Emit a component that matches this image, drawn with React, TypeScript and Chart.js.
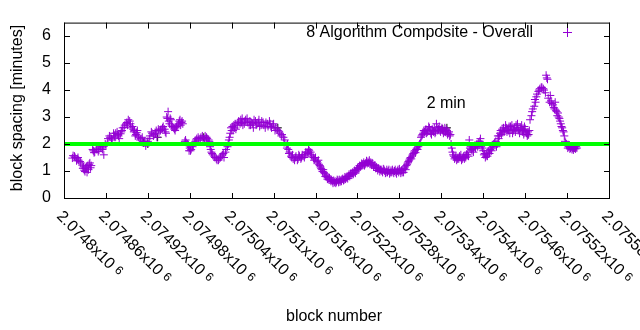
import React, { useEffect, useRef } from "react";
import { Chart, registerables } from "chart.js";

Chart.register(...registerables);

const FONT = "'Liberation Sans', Arial, Helvetica, sans-serif";

// x axis: block number
const xMin = 2074800;
const xMax = 2075580;
const xStep = 60;
// y axis: block spacing in minutes
const yMin = 0;
const yMax = 6.5;
const yStep = 1;

const seriesLabel = "8 Algorithm Composite - Overall";
const targetLabel = "2 min";
const targetMinutes = 2;
const targetLabelAt: [number, number] = [2075347, 3.32];
const yTitle = "block spacing [minutes]";
const xTitle = "block number";

// [block number, block spacing (minutes)] — centre of the band
const compositeOverall: [number, number][] = [
  [2074813, 1.57], [2074816, 1.5], [2074819, 1.45], [2074821, 1.4], [2074824, 1.3],
  [2074827, 1.1], [2074829, 1.03], [2074832, 1.15], [2074833, 0.95], [2074834, 1.2],
  [2074837, 1.3], [2074839, 1.2],
  [2074842, 1.75], [2074844, 1.7], [2074847, 1.8], [2074850, 1.78], [2074853, 1.85],
  [2074856, 1.9], [2074857, 1.6], [2074860, 1.95], [2074863, 2.2], [2074866, 2.25],
  [2074869, 2.15], [2074872, 2.3], [2074874, 2.4], [2074877, 2.35], [2074879, 2.2],
  [2074882, 2.45], [2074884, 2.6], [2074887, 2.7], [2074890, 2.8], [2074892, 2.9],
  [2074895, 2.75], [2074896, 2.6], [2074899, 2.55], [2074900, 2.45], [2074903, 2.35],
  [2074905, 2.5], [2074907, 2.25], [2074910, 2.2], [2074913, 2.1], [2074916, 2.05],
  [2074917, 1.93], [2074920, 2.1], [2074923, 2.3], [2074926, 2.4], [2074929, 2.35],
  [2074932, 2.5], [2074933, 2.25], [2074936, 2.45], [2074939, 2.55], [2074942, 2.65],
  [2074945, 2.45], [2074946, 2.4], [2074947, 3.0], [2074949, 3.2], [2074950, 2.85],
  [2074953, 2.9], [2074955, 2.65], [2074958, 2.55], [2074960, 2.6], [2074962, 2.7],
  [2074965, 2.85], [2074968, 2.8], [2074970, 2.75],
  [2074973, 2.1], [2074975, 2.05], [2074978, 1.95], [2074979, 1.75], [2074982, 1.8],
  [2074985, 1.95], [2074988, 2.1], [2074990, 2.2], [2074993, 2.15], [2074996, 2.25],
  [2074999, 2.2], [2075002, 2.3], [2075005, 2.2], [2075008, 2.1], [2075009, 1.9],
  [2075011, 1.7], [2075013, 1.6], [2075016, 1.5], [2075019, 1.4], [2075022, 1.45],
  [2075025, 1.55], [2075028, 1.65], [2075029, 1.5], [2075032, 1.8], [2075035, 2.0],
  [2075036, 2.15],
  [2075038, 2.4], [2075039, 2.6], [2075042, 2.5], [2075043, 2.7], [2075046, 2.55],
  [2075049, 2.8], [2075052, 2.75], [2075053, 2.9], [2075056, 2.7], [2075059, 2.85],
  [2075062, 2.95], [2075065, 2.7], [2075068, 2.8], [2075071, 2.6], [2075074, 2.85],
  [2075076, 2.75], [2075079, 2.9], [2075082, 2.7], [2075085, 2.8], [2075088, 2.6],
  [2075091, 2.75], [2075094, 2.85], [2075096, 2.65], [2075099, 2.7], [2075102, 2.5],
  [2075105, 2.55], [2075108, 2.45], [2075111, 2.3], [2075114, 2.25], [2075115, 2.05],
  [2075118, 1.95], [2075121, 1.8], [2075122, 1.65], [2075125, 1.55], [2075128, 1.45],
  [2075131, 1.5], [2075134, 1.4], [2075137, 1.55], [2075139, 1.45], [2075142, 1.55],
  [2075145, 1.6], [2075148, 1.7], [2075151, 1.75], [2075154, 1.6], [2075157, 1.5],
  [2075159, 1.45], [2075162, 1.35], [2075165, 1.25], [2075167, 1.15],
  [2075169, 1.05], [2075172, 0.95], [2075175, 0.85], [2075178, 0.75], [2075181, 0.7],
  [2075184, 0.62], [2075187, 0.58], [2075190, 0.6], [2075192, 0.65], [2075195, 0.6],
  [2075198, 0.7], [2075201, 0.68], [2075204, 0.75], [2075207, 0.82], [2075210, 0.9],
  [2075212, 0.85], [2075215, 0.95], [2075218, 1.0], [2075221, 1.1], [2075224, 1.15],
  [2075227, 1.25], [2075230, 1.2], [2075232, 1.3], [2075235, 1.35], [2075238, 1.25],
  [2075241, 1.3], [2075244, 1.2], [2075247, 1.15], [2075250, 1.1], [2075253, 1.05],
  [2075255, 1.0], [2075258, 1.05], [2075261, 0.95], [2075264, 1.0], [2075267, 0.95],
  [2075270, 1.05], [2075273, 1.0], [2075275, 0.95], [2075278, 1.05], [2075281, 1.0],
  [2075284, 0.95], [2075287, 1.1], [2075290, 1.2],
  [2075293, 1.35], [2075295, 1.45], [2075298, 1.55], [2075301, 1.7], [2075304, 1.8],
  [2075307, 1.9], [2075310, 2.05], [2075311, 2.25], [2075314, 2.4], [2075317, 2.5],
  [2075320, 2.45], [2075323, 2.6], [2075326, 2.35], [2075328, 2.5], [2075331, 2.4],
  [2075333, 2.75], [2075336, 2.55], [2075338, 2.5], [2075341, 2.6], [2075344, 2.45],
  [2075347, 2.55], [2075350, 2.4], [2075353, 2.35], [2075354, 2.0],
  [2075357, 1.6], [2075360, 1.5], [2075363, 1.45], [2075366, 1.55], [2075369, 1.4],
  [2075371, 1.5], [2075374, 1.55], [2075377, 1.6], [2075380, 2.15], [2075381, 1.85],
  [2075384, 1.75], [2075387, 1.9], [2075390, 1.95], [2075393, 2.05], [2075396, 2.2],
  [2075399, 1.85], [2075401, 1.6], [2075404, 1.55], [2075407, 1.7], [2075410, 1.8],
  [2075413, 1.95], [2075416, 2.05], [2075419, 1.9],
  [2075422, 2.2], [2075424, 2.4], [2075427, 2.55], [2075430, 2.45], [2075433, 2.6],
  [2075436, 2.5], [2075439, 2.65], [2075442, 2.4], [2075444, 2.55], [2075447, 2.7],
  [2075450, 2.5], [2075453, 2.6], [2075456, 2.45], [2075459, 2.65], [2075462, 2.4],
  [2075463, 2.3], [2075466, 2.5],
  [2075467, 2.9], [2075469, 3.05], [2075470, 3.2], [2075473, 3.4], [2075474, 3.65],
  [2075476, 3.75], [2075479, 3.95], [2075480, 4.0], [2075483, 4.1], [2075486, 4.05],
  [2075489, 3.9], [2075490, 4.55], [2075492, 4.4], [2075493, 3.7], [2075495, 3.55],
  [2075496, 3.8], [2075497, 3.6], [2075500, 3.45], [2075502, 3.3], [2075503, 3.55],
  [2075505, 3.2], [2075506, 3.05], [2075507, 3.15], [2075509, 2.95], [2075510, 2.85],
  [2075513, 2.6], [2075515, 2.45], [2075516, 2.3], [2075517, 2.1], [2075519, 2.0],
  [2075520, 1.95], [2075522, 1.9], [2075525, 1.85], [2075527, 1.8], [2075530, 1.85],
  [2075533, 1.9],
];

// the remaining blocks of the same series, spread around the band
const compositeOverallSpread: [number, number][] = [
  [2074812, 1.48], [2074815, 1.55], [2074818, 1.38], [2074820, 1.5], [2074823, 1.35],
  [2074826, 1.22], [2074828, 1.15], [2074830, 0.98], [2074831, 1.1], [2074835, 1.05],
  [2074836, 1.25], [2074838, 1.12],
  [2074841, 1.8], [2074843, 1.68], [2074846, 1.85], [2074849, 1.72], [2074852, 1.9],
  [2074855, 1.8], [2074859, 2.0], [2074862, 2.05], [2074865, 2.3], [2074868, 2.2],
  [2074871, 2.4], [2074873, 2.25], [2074876, 2.45], [2074878, 2.3], [2074881, 2.38],
  [2074883, 2.5], [2074886, 2.62], [2074889, 2.75], [2074891, 2.7], [2074894, 2.85],
  [2074898, 2.65], [2074901, 2.5], [2074902, 2.3], [2074904, 2.42], [2074906, 2.3],
  [2074909, 2.15], [2074912, 2.25], [2074915, 2.1], [2074919, 2.05], [2074922, 2.2],
  [2074925, 2.45], [2074928, 2.3], [2074931, 2.4], [2074935, 2.55], [2074938, 2.5],
  [2074941, 2.6], [2074944, 2.55], [2074948, 2.95], [2074951, 2.75], [2074952, 2.95],
  [2074954, 2.7], [2074957, 2.6], [2074959, 2.5], [2074961, 2.65], [2074964, 2.75],
  [2074966, 2.9], [2074967, 2.7], [2074969, 2.85],
  [2074974, 2.15], [2074977, 2.0], [2074980, 1.85], [2074981, 1.75], [2074984, 1.9],
  [2074987, 2.05], [2074989, 2.15], [2074992, 2.25], [2074995, 2.2], [2074998, 2.3],
  [2075001, 2.15], [2075004, 2.25], [2075007, 2.15], [2075010, 1.8], [2075012, 1.65],
  [2075015, 1.55], [2075018, 1.45], [2075021, 1.4], [2075024, 1.5], [2075027, 1.6],
  [2075031, 1.7], [2075034, 1.9], [2075037, 2.25],
  [2075040, 2.5], [2075041, 2.65], [2075044, 2.6], [2075045, 2.75], [2075048, 2.7],
  [2075050, 2.85], [2075054, 2.8], [2075055, 2.95], [2075058, 2.75], [2075060, 2.9],
  [2075063, 2.8], [2075066, 2.85], [2075067, 2.7], [2075070, 2.75], [2075072, 2.9],
  [2075075, 2.7], [2075078, 2.8], [2075080, 2.65], [2075083, 2.85], [2075086, 2.7],
  [2075089, 2.8], [2075092, 2.65], [2075095, 2.75], [2075097, 2.6], [2075100, 2.75],
  [2075103, 2.6], [2075106, 2.5], [2075109, 2.4], [2075112, 2.35], [2075116, 2.15],
  [2075119, 1.85], [2075120, 2.0], [2075123, 1.7], [2075126, 1.5], [2075127, 1.6],
  [2075130, 1.4], [2075132, 1.55], [2075135, 1.45], [2075136, 1.6], [2075140, 1.5],
  [2075141, 1.6], [2075144, 1.5], [2075146, 1.7], [2075149, 1.65], [2075150, 1.8],
  [2075153, 1.7], [2075155, 1.55], [2075158, 1.4], [2075160, 1.5], [2075163, 1.3],
  [2075164, 1.4], [2075166, 1.2],
  [2075168, 1.1], [2075170, 0.98], [2075171, 1.05], [2075173, 0.9], [2075174, 0.8],
  [2075176, 0.78], [2075177, 0.7], [2075179, 0.68], [2075180, 0.75], [2075182, 0.62],
  [2075183, 0.68], [2075185, 0.55], [2075186, 0.65], [2075188, 0.62], [2075189, 0.55],
  [2075191, 0.68], [2075193, 0.58], [2075194, 0.68], [2075196, 0.65], [2075197, 0.62],
  [2075199, 0.72], [2075200, 0.65], [2075202, 0.78], [2075203, 0.7], [2075205, 0.8],
  [2075206, 0.72], [2075208, 0.88], [2075209, 0.8], [2075211, 0.92], [2075213, 0.95],
  [2075214, 0.88], [2075216, 1.02], [2075217, 0.92], [2075219, 1.05], [2075220, 1.12],
  [2075222, 1.08], [2075223, 1.2], [2075225, 1.18], [2075226, 1.28], [2075228, 1.22],
  [2075229, 1.32], [2075231, 1.25], [2075233, 1.38], [2075234, 1.28], [2075236, 1.3],
  [2075237, 1.4], [2075239, 1.32], [2075240, 1.22], [2075242, 1.25], [2075243, 1.15],
  [2075245, 1.22], [2075246, 1.1], [2075248, 1.12], [2075249, 1.02], [2075251, 1.08],
  [2075252, 0.98], [2075254, 1.05], [2075256, 0.95], [2075257, 1.08], [2075259, 1.0],
  [2075260, 0.92], [2075262, 1.05], [2075263, 0.95], [2075265, 1.05], [2075266, 0.9],
  [2075268, 1.02], [2075269, 0.95], [2075271, 0.98], [2075272, 0.92], [2075274, 1.05],
  [2075276, 0.9], [2075277, 1.0], [2075279, 0.95], [2075280, 1.08], [2075282, 0.92],
  [2075283, 1.02], [2075285, 1.05], [2075286, 0.95], [2075288, 1.15], [2075289, 1.05],
  [2075291, 1.25],
  [2075292, 1.3], [2075294, 1.4], [2075296, 1.5], [2075297, 1.45], [2075299, 1.6],
  [2075300, 1.65], [2075302, 1.75], [2075303, 1.68], [2075305, 1.85], [2075306, 1.8],
  [2075308, 1.95], [2075309, 2.0], [2075312, 2.3], [2075313, 2.35], [2075315, 2.5],
  [2075316, 2.45], [2075318, 2.55], [2075319, 2.4], [2075321, 2.5], [2075322, 2.65],
  [2075324, 2.5], [2075325, 2.4], [2075327, 2.55], [2075329, 2.45], [2075330, 2.6],
  [2075332, 2.45], [2075334, 2.6], [2075335, 2.5], [2075337, 2.65], [2075339, 2.45],
  [2075340, 2.55], [2075342, 2.5], [2075343, 2.4], [2075345, 2.6], [2075346, 2.45],
  [2075348, 2.5], [2075349, 2.35], [2075351, 2.45], [2075352, 2.3], [2075355, 1.85],
  [2075356, 1.7],
  [2075358, 1.55], [2075359, 1.45], [2075361, 1.55], [2075362, 1.4], [2075364, 1.5],
  [2075365, 1.45], [2075367, 1.5], [2075368, 1.6], [2075370, 1.45], [2075372, 1.55],
  [2075373, 1.45], [2075375, 1.5], [2075376, 1.62], [2075378, 1.7], [2075379, 1.55],
  [2075382, 1.9], [2075383, 1.8], [2075385, 1.85], [2075386, 1.7], [2075388, 1.95],
  [2075389, 1.85], [2075391, 2.0], [2075392, 1.9], [2075394, 1.95], [2075395, 2.1],
  [2075397, 1.9], [2075398, 2.0], [2075400, 1.75], [2075402, 1.65], [2075403, 1.5],
  [2075405, 1.6], [2075406, 1.55], [2075408, 1.75], [2075409, 1.65], [2075411, 1.85],
  [2075412, 1.75], [2075414, 1.9], [2075415, 2.0], [2075417, 1.95], [2075418, 2.1],
  [2075420, 2.0], [2075421, 2.3],
  [2075423, 2.3], [2075425, 2.5], [2075426, 2.35], [2075428, 2.45], [2075429, 2.6],
  [2075431, 2.5], [2075432, 2.7], [2075434, 2.45], [2075435, 2.55], [2075437, 2.65],
  [2075438, 2.4], [2075440, 2.55], [2075441, 2.7], [2075443, 2.5], [2075445, 2.6],
  [2075446, 2.45], [2075448, 2.6], [2075449, 2.75], [2075451, 2.55], [2075452, 2.4],
  [2075454, 2.55], [2075455, 2.7], [2075457, 2.5], [2075458, 2.35], [2075460, 2.55],
  [2075461, 2.45], [2075464, 2.45], [2075465, 2.35],
  [2075471, 3.3], [2075475, 3.55], [2075477, 3.85], [2075481, 4.05], [2075484, 4.1],
  [2075487, 4.0], [2075491, 4.45], [2075498, 3.5], [2075501, 3.35], [2075504, 3.25],
  [2075508, 3.0], [2075511, 2.75], [2075512, 2.65], [2075514, 2.5], [2075518, 2.05],
  [2075521, 1.85], [2075523, 1.95], [2075524, 1.82], [2075526, 1.9], [2075528, 1.85],
  [2075529, 1.78], [2075531, 1.9], [2075532, 1.82], [2075534, 1.85],
];

// black points partly hidden under the composite series
const blackPoints: [number, number][] = [
  [2074914, 2.05], [2074920, 2.0], [2074934, 2.25], [2075000, 2.25], [2075106, 2.6],
  [2075342, 2.55], [2075348, 2.6], [2075457, 2.5], [2075464, 2.35], [2075523, 1.95],
  [2075530, 1.85],
];

const PURPLE = "#9400d3";
const GREEN = "#00ff00";

function formatTick(v: number): string {
  return String(parseFloat((v / 1e6).toFixed(6)));
}

const gnuplotDecor = {
  id: "gnuplotDecor",
  afterDraw(chart: any) {
    const { ctx, chartArea } = chart;
    const { left, right, top, bottom } = chartArea;
    const xs = chart.scales.x;
    const ys = chart.scales.y;
    ctx.save();
    ctx.strokeStyle = "#000";
    ctx.lineWidth = 1;
    // frame
    ctx.strokeRect(left + 0.5, top + 0.5, right - left, bottom - top);
    const tl = 6;
    ctx.beginPath();
    for (const t of ys.ticks) {
      const py = Math.round(ys.getPixelForValue(t.value)) + 0.5;
      ctx.moveTo(left, py);
      ctx.lineTo(left + tl, py);
      ctx.moveTo(right + 1, py);
      ctx.lineTo(right + 1 - tl, py);
    }
    for (const t of xs.ticks) {
      const px = Math.round(xs.getPixelForValue(t.value)) + 0.5;
      ctx.moveTo(px, bottom + 1);
      ctx.lineTo(px, bottom + 1 - tl);
      ctx.moveTo(px, top);
      ctx.lineTo(px, top + tl);
    }
    ctx.stroke();

    ctx.fillStyle = "#000";
    // rotated x tick labels
    for (const t of xs.ticks) {
      const px = xs.getPixelForValue(t.value);
      const main = formatTick(t.value) + "x10";
      ctx.save();
      ctx.translate(px - 8, 217);
      ctx.rotate(Math.PI / 4);
      ctx.font = `16px ${FONT}`;
      ctx.textAlign = "left";
      ctx.textBaseline = "alphabetic";
      ctx.fillText(main, 0, 0);
      const w = ctx.measureText(main + " ").width;
      ctx.font = `12px ${FONT}`;
      ctx.fillText("6", w, -3);
      ctx.restore();
    }

    // axis titles
    ctx.font = `16px ${FONT}`;
    ctx.textBaseline = "alphabetic";
    ctx.textAlign = "center";
    ctx.fillText(xTitle, 334, 321);
    ctx.save();
    ctx.translate(22, 108);
    ctx.rotate(-Math.PI / 2);
    ctx.fillText(yTitle, 0, 0);
    ctx.restore();

    // legend
    ctx.textAlign = "right";
    ctx.fillText(seriesLabel, 533, 37);
    ctx.strokeStyle = PURPLE;
    ctx.beginPath();
    ctx.moveTo(563, 32.5);
    ctx.lineTo(572, 32.5);
    ctx.moveTo(567.5, 28);
    ctx.lineTo(567.5, 37);
    ctx.stroke();

    // target label
    ctx.textAlign = "center";
    ctx.fillText(
      targetLabel,
      xs.getPixelForValue(targetLabelAt[0]),
      ys.getPixelForValue(targetLabelAt[1])
    );
    ctx.restore();
  },
};

export default function App() {
  const ref = useRef<HTMLCanvasElement | null>(null);
  useEffect(() => {
    if (!ref.current) return;
    const chart = new Chart(ref.current, {
      type: "scatter",
      data: {
        datasets: [
          {
            label: "target",
            data: [
              { x: xMin, y: targetMinutes },
              { x: xMax, y: targetMinutes },
            ],
            showLine: true,
            borderColor: GREEN,
            backgroundColor: GREEN,
            borderWidth: 4,
            pointRadius: 0,
            order: 0,
          },
          {
            label: seriesLabel,
            data: [...compositeOverall, ...compositeOverallSpread]
              .sort((a, b) => a[0] - b[0])
              .map(([x, y]) => ({ x, y })),
            pointStyle: "cross",
            pointRadius: 4,
            borderWidth: 1,
            borderColor: PURPLE,
            backgroundColor: PURPLE,
            order: 1,
          },
          {
            label: "other",
            data: blackPoints.map(([x, y]) => ({ x, y })),
            pointStyle: "cross",
            pointRadius: 4,
            borderWidth: 1,
            borderColor: "#000",
            backgroundColor: "#000",
            order: 2,
          },
        ],
      },
      options: {
        responsive: false,
        animation: false,
        events: [],
        layout: { padding: { top: 19, right: 31, left: 0, bottom: 0 } },
        plugins: { legend: { display: false }, tooltip: { enabled: false } },
        scales: {
          x: {
            type: "linear",
            min: xMin,
            max: xMax,
            ticks: { display: false, stepSize: xStep, includeBounds: false, maxTicksLimit: 20 },
            grid: { display: false, drawTicks: false },
            border: { display: false },
            afterFit: (s: any) => {
              s.height = 132;
            },
          },
          y: {
            type: "linear",
            min: yMin,
            max: yMax,
            ticks: {
              stepSize: yStep,
              includeBounds: false,
              color: "#000",
              padding: 13,
              font: { family: FONT, size: 16 },
            },
            grid: { display: false, drawTicks: false },
            border: { display: false },
            afterFit: (s: any) => {
              s.width = 64;
            },
          },
        },
      },
      plugins: [gnuplotDecor],
    });
    return () => chart.destroy();
  }, []);
  return (
    <div style={{ position: "fixed", left: 0, top: 0, width: 640, height: 330, background: "#fff" }}>
      <canvas ref={ref} width={640} height={330} />
    </div>
  );
}
